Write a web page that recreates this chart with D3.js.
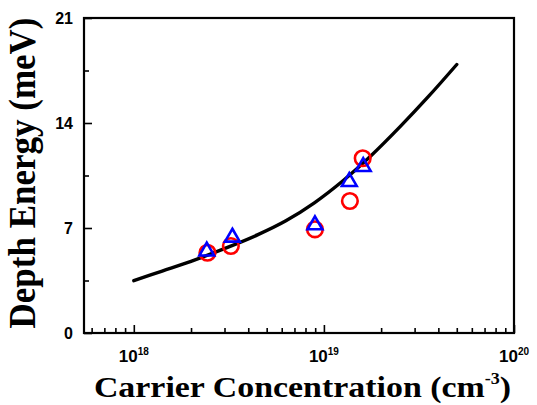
<!DOCTYPE html>
<html>
<head>
<meta charset="utf-8">
<script src="https://cdn.jsdelivr.net/npm/d3@7"></script>
<style>
    body { margin: 0; background: #fff; }
    .tick-label { font-family: "Liberation Sans", Arial, sans-serif; font-weight: bold; fill: #000; }
    .axis-title { font-family: "Liberation Serif", "Times New Roman", serif; font-weight: bold; fill: #000; }
</style>
</head>
<body>
<div id="chart"></div>
<script>
// Fitted curve (carrier concentration in cm^-3, depth energy in meV)
var curveConc = [1e18, 1.41e18, 2.0e18, 3.16e18, 4.47e18, 6.31e18,
                 8.91e18, 1.26e19, 1.78e19, 2.51e19, 3.55e19, 5.0e19];
var curveEnergy = [3.49, 4.13, 4.78, 5.74, 6.54, 7.48,
                   8.68, 10.15, 11.85, 13.74, 15.77, 17.9];

// Measured points, red circles
var circleConc = [2.44e18, 3.24e18, 8.97e18, 1.37e19, 1.6e19];
var circleEnergy = [5.35, 5.8, 6.91, 8.8, 11.65];

// Measured points, blue triangles
var triangleConc = [2.42e18, 3.3e18, 8.97e18, 1.36e19, 1.61e19];
var triangleEnergy = [5.45, 6.38, 7.2, 10.09, 11.09];

// Axis ticks
var yTicks = [0, 7, 14, 21];
var yMinorTicks = [3.5, 10.5, 17.5];
var xExponents = [18, 19, 20];

(function(d3) {

    var margin = {top: 18, right: 23, bottom: 72, left: 84},
        width = 537 - margin.left - margin.right,
        height = 405 - margin.top - margin.bottom;

    var svg = d3.select("#chart")
        .append("svg")
            .attr("width", 537)
            .attr("height", 405)
        .append("g")
            .attr("transform", "translate(" + margin.left + "," + margin.top + ")");

    // Scales
    var x = d3.scaleLog().domain([5.47e17, 1e20]).range([0, width]);
    var y = d3.scaleLinear().domain([0, 21]).range([height, 0]);

    // minor x ticks: 2..9 of every decade inside the domain
    var xMinorTicks = [];
    [17, 18, 19].forEach(function(e) {
        for (var m = 2; m <= 9; m++) {
            var v = m * Math.pow(10, e);
            if (v >= x.domain()[0] && v <= x.domain()[1]) xMinorTicks.push(v);
        }
    });
    var xMajorTicks = xExponents.map(function(e) { return Math.pow(10, e); });

    // Inward ticks
    svg.append("g")
        .attr("transform", "translate(0," + height + ")")
        .call(d3.axisBottom(x).tickValues(xMajorTicks).tickSize(-8).tickFormat(""))
        .call(function(g) { g.select(".domain").remove(); });
    svg.append("g")
        .attr("transform", "translate(0," + height + ")")
        .call(d3.axisBottom(x).tickValues(xMinorTicks).tickSize(-5).tickFormat(""))
        .call(function(g) { g.select(".domain").remove(); });
    svg.append("g")
        .call(d3.axisLeft(y).tickValues(yTicks).tickSize(-8).tickFormat(""))
        .call(function(g) { g.select(".domain").remove(); });
    svg.append("g")
        .call(d3.axisLeft(y).tickValues(yMinorTicks).tickSize(-5).tickFormat(""))
        .call(function(g) { g.select(".domain").remove(); });
    svg.selectAll(".tick line").attr("stroke", "#000").attr("stroke-width", 1.6);

    // Frame
    svg.append("rect")
        .attr("width", width)
        .attr("height", height)
        .attr("fill", "none")
        .attr("stroke", "#000")
        .attr("stroke-width", 2.2);

    // Y tick labels
    svg.selectAll(".ylab")
        .data(yTicks)
        .enter().append("text")
            .attr("class", "tick-label")
            .attr("x", -11)
            .attr("y", function(d) { return y(d); })
            .attr("dy", "0.36em")
            .attr("text-anchor", "end")
            .style("font-size", "16px")
            .text(function(d) { return d; });

    // X tick labels: 10 with superscript exponent
    var xl = svg.selectAll(".xlab")
        .data(xExponents)
        .enter().append("text")
            .attr("class", "tick-label")
            .attr("x", function(d) { return x(Math.pow(10, d)); })
            .attr("y", height + 29)
            .attr("text-anchor", "middle")
            .style("font-size", "17px");
    xl.append("tspan").text("10");
    xl.append("tspan")
        .attr("dy", -7)
        .style("font-size", "10px")
        .text(function(d) { return d; });

    // Axis titles (the original is a little stretched sideways)
    var xt = svg.append("text")
        .attr("class", "axis-title")
        .attr("transform", "translate(" + (width / 2 + 3.5) + "," + (height + 64) + ") scale(1.13,1)")
        .attr("text-anchor", "middle")
        .style("font-size", "30px");
    xt.append("tspan").text("Carrier Concentration (cm");
    xt.append("tspan").attr("dy", -13).style("font-size", "16px").text("-3");
    xt.append("tspan").attr("dy", 13).text(")");

    svg.append("text")
        .attr("class", "axis-title")
        .attr("transform", "translate(-49,155) scale(1.1,1) rotate(-90)")
        .attr("text-anchor", "middle")
        .style("font-size", "35px")
        .text("Depth Energy (meV)");

    // Fitted curve
    var line = d3.line()
        .x(function(d, i) { return x(curveConc[i]); })
        .y(function(d) { return y(d); })
        .curve(d3.curveCatmullRom.alpha(0.5));

    svg.append("path")
        .attr("d", line(curveEnergy))
        .attr("fill", "none")
        .attr("stroke", "#000")
        .attr("stroke-width", 3.4)
        .attr("stroke-linecap", "round");

    // Circles
    svg.selectAll(".circ")
        .data(circleEnergy)
        .enter().append("circle")
            .attr("cx", function(d, i) { return x(circleConc[i]); })
            .attr("cy", function(d) { return y(d); })
            .attr("r", 7.8)
            .attr("fill", "none")
            .attr("stroke", "#ff0000")
            .attr("stroke-width", 2.6);

    // Triangles
    var tri = d3.symbol().type(d3.symbolTriangle).size(95);
    svg.selectAll(".tri")
        .data(triangleEnergy)
        .enter().append("path")
            .attr("d", tri)
            .attr("transform", function(d, i) {
                return "translate(" + x(triangleConc[i]) + "," + y(d) + ")";
            })
            .attr("fill", "none")
            .attr("stroke", "#0000ff")
            .attr("stroke-width", 2.6);

})(d3);
</script>
</body>
</html>
